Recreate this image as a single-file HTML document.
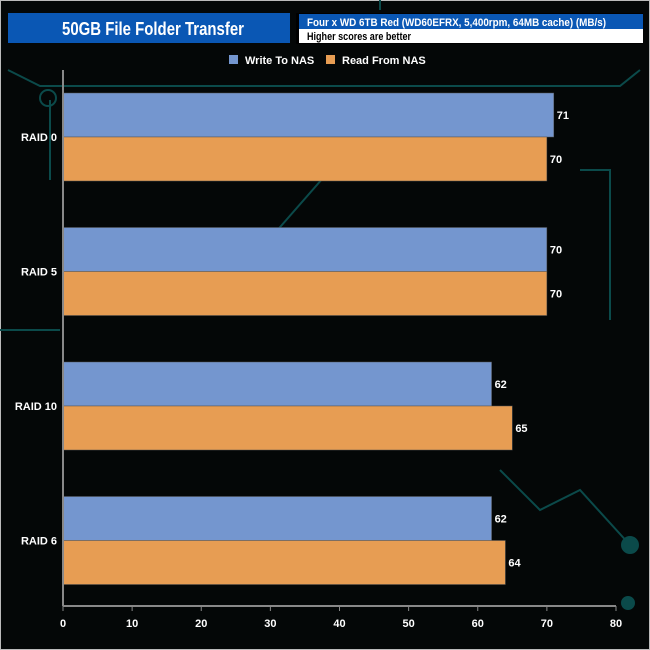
<!DOCTYPE html>
<html><head><meta charset="utf-8"><style>
body{margin:0;width:650px;height:650px;overflow:hidden;background:#050808;font-family:"Liberation Sans",sans-serif}
svg{display:block}
</style></head><body>
<svg id="c" width="650" height="650">
<rect x="0" y="0" width="650" height="650" fill="#040707" stroke="#bbb" stroke-width="2"/>
<g stroke="#0b4a4a" stroke-width="2" fill="none">
<path d="M8 70 L40 86 L620 86 L640 70"/><path d="M50 100 L50 180"/><circle cx="48" cy="98" r="8"/>
<path d="M580 170 L610 170 L610 320"/><path d="M0 330 L60 330"/><path d="M500 470 L540 510 L580 490 L630 545"/>
<circle cx="630" cy="545" r="8" fill="#0b4a4a"/><circle cx="628" cy="603" r="6" fill="#0b4a4a"/>
<path d="M260 250 L330 170"/><path d="M380 0 L380 10"/>
</g>
<rect x="8" y="13" width="282" height="30" fill="#0a57b4"/>
<text x="62" y="35" fill="#fff" font-size="18" font-weight="bold" textLength="182" lengthAdjust="spacingAndGlyphs">50GB File Folder Transfer</text>
<rect x="296" y="13" width="347" height="31" fill="#000"/>
<rect x="299" y="14" width="344" height="15" fill="#0a57b4"/>
<rect x="299" y="29" width="344" height="14" fill="#fff"/>
<text x="307" y="26" fill="#fff" font-size="11" font-weight="bold" textLength="299" lengthAdjust="spacingAndGlyphs">Four x WD 6TB Red (WD60EFRX, 5,400rpm, 64MB cache) (MB/s)</text>
<text x="307" y="40" fill="#000" font-size="11" font-weight="bold" textLength="104" lengthAdjust="spacingAndGlyphs">Higher scores are better</text>
<rect x="229" y="55" width="9" height="9" fill="#7496cf"/>
<text x="245" y="64" fill="#fff" font-size="11" font-weight="bold">Write To NAS</text>
<rect x="326" y="55" width="9" height="9" fill="#e79d53"/>
<text x="342" y="64" fill="#fff" font-size="11" font-weight="bold">Read From NAS</text>
<g id="plot"></g>
</svg>
<script>
const categories=["RAID 0","RAID 5","RAID 10","RAID 6"];
const writeVals=[71,70,62,62];
const readVals=[70,70,65,64];
const ticks=[0,10,20,30,40,50,60,70,80];
const NS="http://www.w3.org/2000/svg";
const g=document.getElementById("plot");
const x0=63,x1=616,y0=70,yBottom=606,groupH=134.5,groupTop=93;
const xs=v=>x0+(x1-x0)*v/80;
function el(t,a){const e=document.createElementNS(NS,t);for(const k in a)e.setAttribute(k,a[k]);g.appendChild(e);return e;}
categories.forEach((c,i)=>{
  const yt=groupTop+i*groupH;
  [[writeVals[i],"#7496cf","write"],[readVals[i],"#e79d53","read"]].forEach((s,j)=>{
    const y=yt+j*44;
    const r=el("rect",{x:x0,y:y,width:xs(s[0])-x0,height:44,fill:s[1],stroke:"#555","stroke-width":0.5});
    
    
    const t=el("text",{x:xs(s[0])+3,y:y+26,fill:"#fff","font-size":11,"font-weight":"bold"});
    t.textContent=s[0];
    
    
  });
  const l=el("text",{x:57,y:yt+48,fill:"#fff","font-size":11,"font-weight":"bold","text-anchor":"end"});
  l.textContent=c;
  
  
});
const ax=el("line",{x1:x0,y1:y0,x2:x0,y2:yBottom,stroke:"#888","stroke-width":2});


const bx=el("line",{x1:x0,y1:yBottom,x2:x1,y2:yBottom,stroke:"#888","stroke-width":2});


ticks.forEach(v=>{
  const tk=el("line",{x1:xs(v),y1:yBottom,x2:xs(v),y2:yBottom+5,stroke:"#888","stroke-width":1});
  
  
  const t=el("text",{x:xs(v),y:627,fill:"#fff","font-size":11,"font-weight":"bold","text-anchor":"middle"});
  t.textContent=v;
  
  
});
</script>
</body></html>
